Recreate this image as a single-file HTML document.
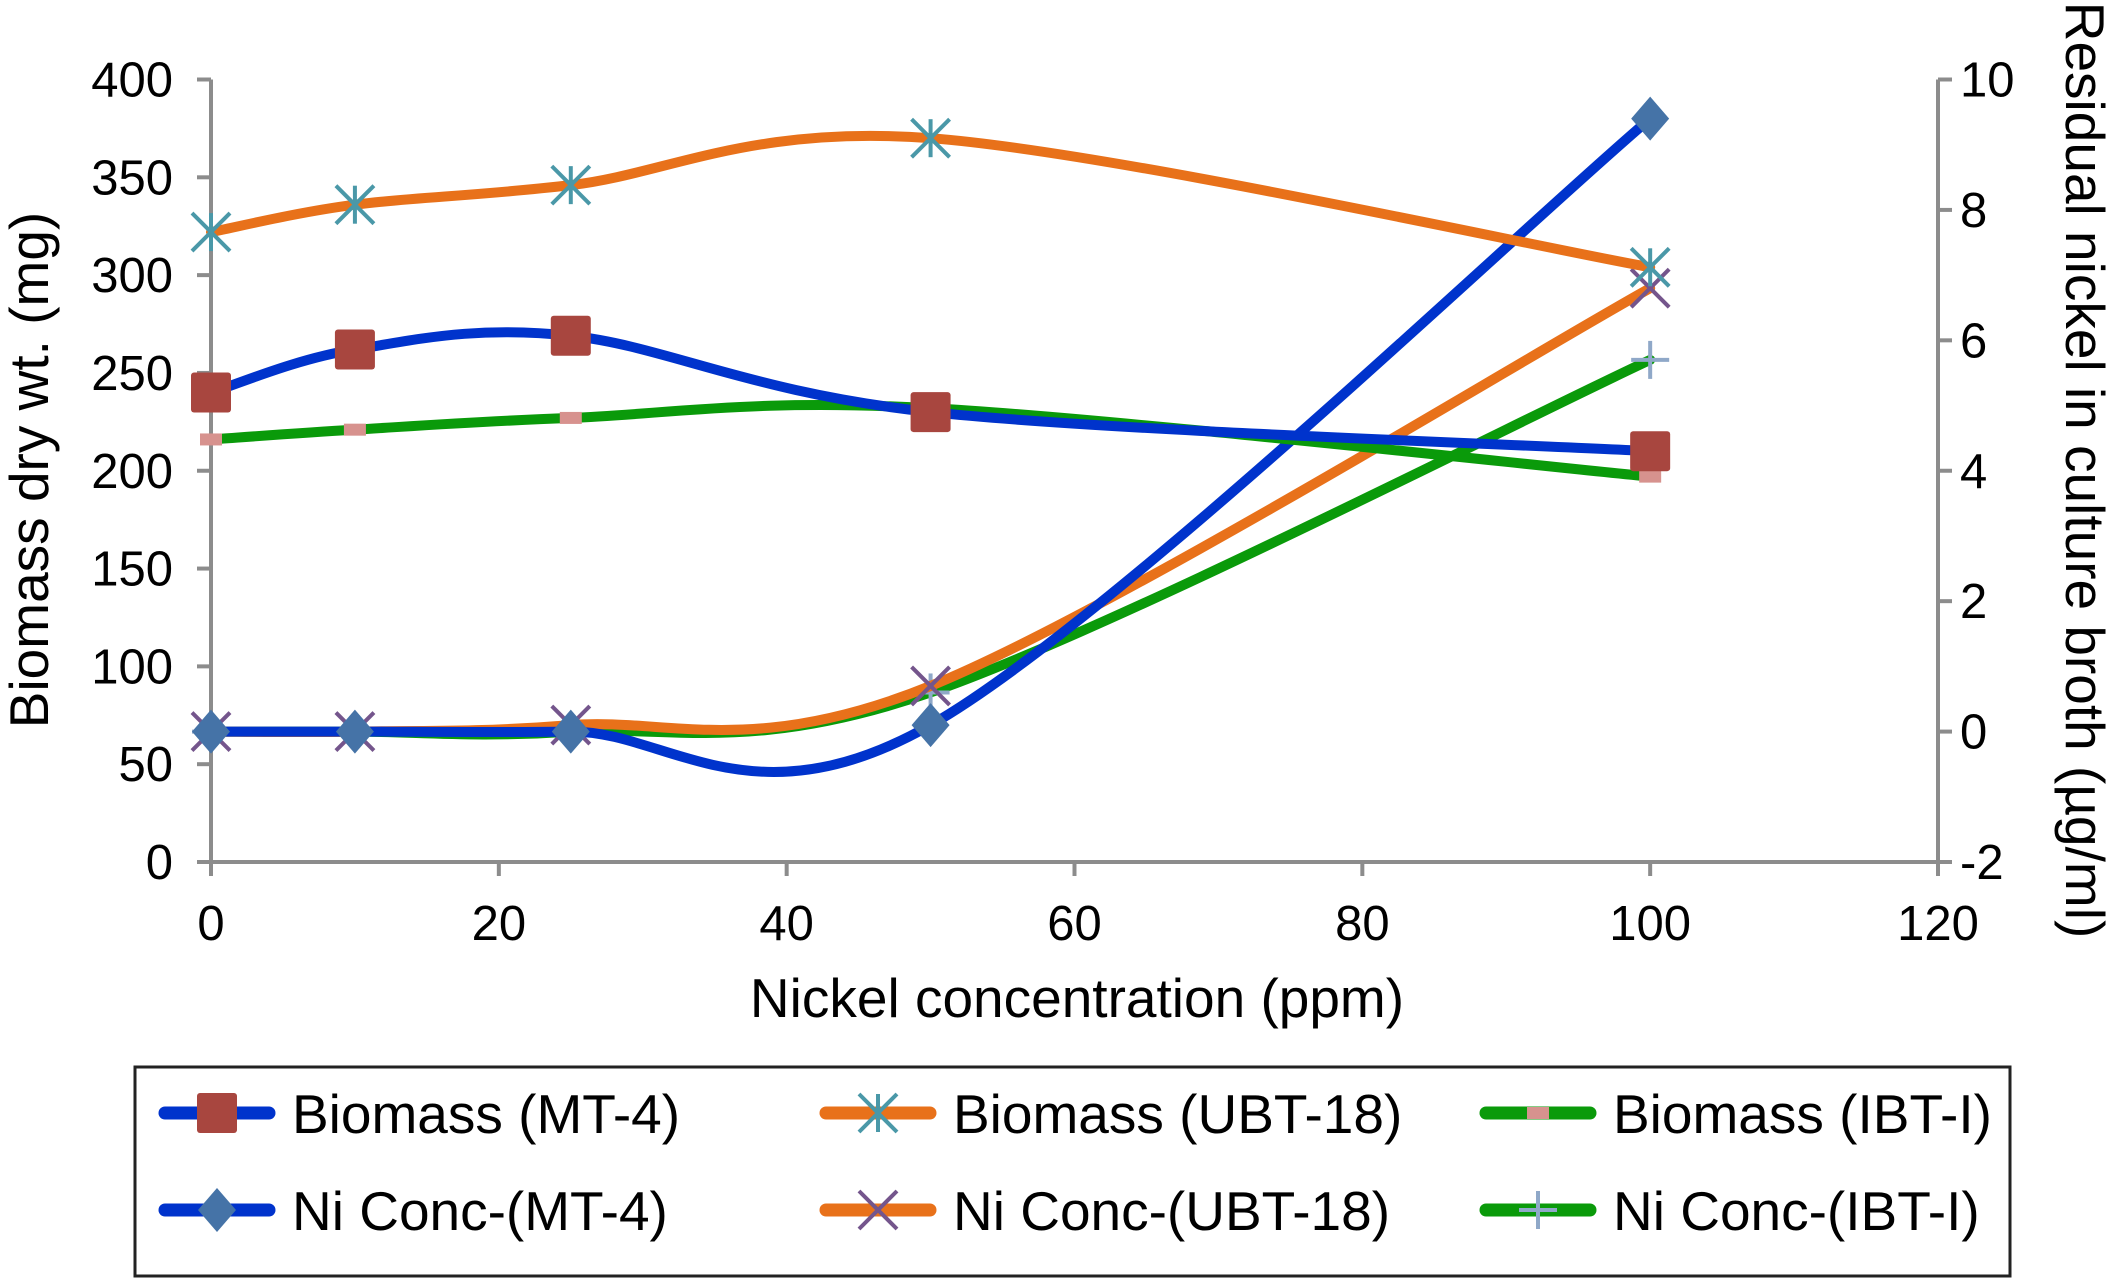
<!DOCTYPE html>
<html><head><meta charset="utf-8"><style>
html,body{margin:0;padding:0;background:#fff;}
svg{display:block;font-family:"Liberation Sans",Arial,sans-serif;}
</style></head><body>
<svg id="chart" width="2115" height="1279" viewBox="0 0 2115 1279">
<g id="axes"></g>
<g id="series"></g>
<g id="legend"></g>
</svg>
<script>
const xValues = [0, 10, 25, 50, 100];
const xTicks = [0, 20, 40, 60, 80, 100, 120];
const yLeftTicks = [0, 50, 100, 150, 200, 250, 300, 350, 400];
const yRightTicks = [-2, 0, 2, 4, 6, 8, 10];
const biomassMT4 = [240, 262, 269, 230, 210];
const biomassUBT18 = [322, 336, 346, 370, 304];
const biomassIBTI = [216, 221, 227, 232, 197];
const niMT4 = [0, 0, 0, 0.1, 9.4];
const niUBT18 = [0, 0, 0.1, 0.7, 6.8];
const niIBTI = [0, 0, 0, 0.6, 5.7];

const NS = "http://www.w3.org/2000/svg";
const L = 211, R = 1938, T = 79.5, B = 862;
const xs = v => L + (v - 0) / 120 * (R - L);
const yl = v => B - v / 400 * (B - T);
const yr = v => B - (v + 2) / 12 * (B - T);
function mk(tag, attrs, parent) {
  const e = document.createElementNS(NS, tag);
  for (const k in attrs) e.setAttribute(k, attrs[k]);
  parent.appendChild(e); return e;
}
const axes = document.getElementById('axes');
const ser = document.getElementById('series');
const leg = document.getElementById('legend');
const grey = '#8c8c8c';

let a = mk('line', {x1:L,y1:T,x2:L,y2:B,stroke:grey,'stroke-width':4}, axes);


a = mk('line', {x1:R,y1:T,x2:R,y2:B,stroke:grey,'stroke-width':4}, axes);


a = mk('line', {x1:L,y1:B,x2:R,y2:B,stroke:grey,'stroke-width':4}, axes);


yLeftTicks.forEach(v => {
  mk('line', {x1:L-14,y1:yl(v),x2:L,y2:yl(v),stroke:grey,'stroke-width':4}, axes);
  const t = mk('text', {x:L-38,y:yl(v)+17,'text-anchor':'end','font-size':49}, axes);
  t.textContent = v;
  
  
});
yRightTicks.forEach(v => {
  mk('line', {x1:R,y1:yr(v),x2:R+14,y2:yr(v),stroke:grey,'stroke-width':4}, axes);
  const t = mk('text', {x:R+22,y:yr(v)+17,'text-anchor':'start','font-size':49}, axes);
  t.textContent = v;
  
  
});
xTicks.forEach(v => {
  mk('line', {x1:xs(v),y1:B,x2:xs(v),y2:B+14,stroke:grey,'stroke-width':4}, axes);
  const t = mk('text', {x:xs(v),y:B+78,'text-anchor':'middle','font-size':49}, axes);
  t.textContent = v;
  
  
});
let t = mk('text', {x:1077,y:1017,'text-anchor':'middle','font-size':55}, axes);
t.textContent = 'Nickel concentration (ppm)';


t = mk('text', {x:0,y:0,'text-anchor':'middle','font-size':55,transform:'translate(48,470) rotate(-90)'}, axes);
t.textContent = 'Biomass dry wt. (mg)';


t = mk('text', {x:0,y:0,'text-anchor':'middle','font-size':55,transform:'translate(2066,470) rotate(90)'}, axes);
t.textContent = 'Residual nickel in culture broth (\u00b5g/ml)';



function smoothPath(pts) {
  let d = 'M' + pts[0][0] + ',' + pts[0][1];
  for (let i = 0; i < pts.length - 1; i++) {
    const p0 = pts[i - 1] || pts[i], p1 = pts[i], p2 = pts[i + 1], p3 = pts[i + 2] || p2;
    const c1 = [p1[0] + (p2[0] - p0[0]) / 6, p1[1] + (p2[1] - p0[1]) / 6];
    const c2 = [p2[0] - (p3[0] - p1[0]) / 6, p2[1] - (p3[1] - p1[1]) / 6];
    d += ' C' + c1 + ' ' + c2 + ' ' + p2;
  }
  return d;
}
function marker(type, x, y, g, scale) {
  const s = scale || 1;
  if (type === 'square') return mk('rect', {x:x-20*s,y:y-20*s,width:40*s,height:40*s,rx:3,fill:'#a8463f'}, g);
  if (type === 'diamond') return mk('path', {d:`M${x},${y-22*s} L${x+19*s},${y} L${x},${y+22*s} L${x-19*s},${y}Z`,fill:'#4573a7'}, g);
  if (type === 'dash') return mk('rect', {x:x-11*s,y:y-6*s,width:22*s,height:12*s,fill:'#d7928e'}, g);
  const gg = mk('g', {stroke: type==='star' ? '#4a98a8' : type==='x' ? '#74558c' : '#8fa8c8','stroke-width':4}, g);
  const r = 19*s;
  if (type === 'star' || type === 'x') {
    mk('line', {x1:x-r,y1:y-r,x2:x+r,y2:y+r}, gg);
    mk('line', {x1:x-r,y1:y+r,x2:x+r,y2:y-r}, gg);
  }
  if (type === 'star' || type === 'plus') {
    mk('line', {x1:x,y1:y-r,x2:x,y2:y+r}, gg);
  }
  if (type === 'plus') mk('line', {x1:x-r,y1:y,x2:x+r,y2:y}, gg);
  return gg;
}
const series = [
  {name:'Ni Conc-(IBT-I)', vals:niIBTI, axis:yr, color:'#0a9a0a', m:'plus', id:'ni-ibt-i'},
  {name:'Ni Conc-(UBT-18)', vals:niUBT18, axis:yr, color:'#e8711a', m:'x', id:'ni-ubt-18'},
  {name:'Ni Conc-(MT-4)', vals:niMT4, axis:yr, color:'#0033cc', m:'diamond', id:'ni-mt-4'},
  {name:'Biomass (IBT-I)', vals:biomassIBTI, axis:yl, color:'#0a9a0a', m:'dash', id:'biomass-ibt-i'},
  {name:'Biomass (UBT-18)', vals:biomassUBT18, axis:yl, color:'#e8711a', m:'star', id:'biomass-ubt-18'},
  {name:'Biomass (MT-4)', vals:biomassMT4, axis:yl, color:'#0033cc', m:'square', id:'biomass-mt-4'}
];
series.forEach(s => {
  const g = mk('g', {}, ser);
  
  
  const pts = xValues.map((x, i) => [xs(x), s.axis(s.vals[i])]);
  const p = mk('path', {d:smoothPath(pts),fill:'none',stroke:s.color,'stroke-width':10,'stroke-linecap':'round'}, g);
  
  
  pts.forEach(pt => {
    const m = marker(s.m, pt[0], pt[1], g);
    
    
  });
});

const box = mk('rect', {x:135,y:1067,width:1875,height:209,fill:'none',stroke:'#222','stroke-width':3}, leg);


const legendOrder = ['biomass-mt-4','biomass-ubt-18','biomass-ibt-i','ni-mt-4','ni-ubt-18','ni-ibt-i'];
const colX = [165, 826, 1486];
const rowY = [1113, 1210];
legendOrder.forEach((id, i) => {
  const s = series.find(q => q.id === id);
  const cx = colX[i % 3], cy = rowY[Math.floor(i / 3)];
  const g = mk('g', {}, leg);
  
  
  mk('line', {x1:cx,y1:cy,x2:cx+104,y2:cy,stroke:s.color,'stroke-width':13,'stroke-linecap':'round'}, g);
  marker(s.m, cx+52, cy, g, 1);
  const tt = mk('text', {x:cx+127,y:cy+20,'font-size':55}, g);
  tt.textContent = s.name;
});
</script>
</body></html>
